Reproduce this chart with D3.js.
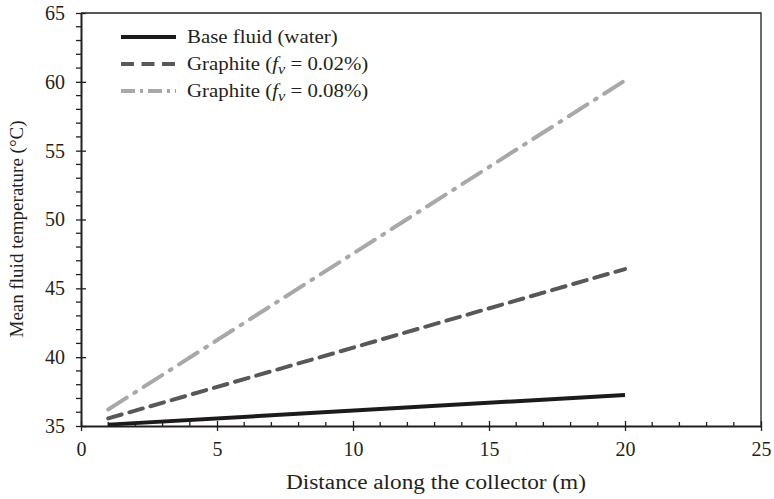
<!DOCTYPE html>
<html>
<head>
<meta charset="utf-8">
<script src="https://cdn.jsdelivr.net/npm/d3@7"></script>
<style>
  body { margin: 0; background: #fff; }
  svg { display: block; }
</style>
</head>
<body>
<svg id="chart" width="774" height="499"></svg>
<script>
// Distance along the collector (m)
const distance = [1, 20];
// Mean fluid temperature (°C) for each fluid
const baseFluid = [35.1, 37.25];
const graphite002 = [35.55, 46.4];
const graphite008 = [36.2, 60.1];

const xTicks = [0, 5, 10, 15, 20, 25];
const yTicks = [35, 40, 45, 50, 55, 60, 65];

const seriesNames = ["Base fluid (water)", "Graphite (fv = 0.02%)", "Graphite (fv = 0.08%)"];
const seriesValues = [baseFluid, graphite002, graphite008];
const seriesColors = ["#1c1a1b", "#58585a", "#a8a8aa"];
const seriesDash = [null, "14 8", "22 9 2 9"];

const FONT = "'Liberation Serif'";

const svg = d3.select("#chart");
const margin = { left: 81, right: 13, top: 13, bottom: 73 };
const W = 774, H = 499;

const x = d3.scaleLinear().domain([0, 25]).range([margin.left, W - margin.right]);
const y = d3.scaleLinear().domain([35, 65]).range([H - margin.bottom, margin.top]);

const axisColor = "#231f20";

// plot frame: top and right edges
svg.append("path")
  .attr("d", `M${x(0)},${y(65)}H${x(25)}V${y(35)}`)
  .attr("fill", "none").attr("stroke", axisColor).attr("stroke-width", 1.3);

// minor ticks: x inward, y outward
svg.append("g").selectAll("line").data(d3.range(0, 26).filter(v => v % 5 !== 0)).join("line")
  .attr("x1", d => x(d)).attr("x2", d => x(d))
  .attr("y1", y(35)).attr("y2", y(35) - 4)
  .attr("stroke", axisColor).attr("stroke-width", 1.3);
svg.append("g").selectAll("line").data(d3.range(35, 66).filter(v => v % 5 !== 0)).join("line")
  .attr("x1", x(0)).attr("x2", x(0) - 5)
  .attr("y1", d => y(d)).attr("y2", d => y(d))
  .attr("stroke", axisColor).attr("stroke-width", 1.3);

// x axis
const xAxis = svg.append("g")
  .attr("transform", `translate(0,${y(35)})`)
  .call(d3.axisBottom(x).tickValues(xTicks).tickSize(5).tickSizeOuter(0).tickPadding(11));
xAxis.selectAll(".tick line").attr("y1", -5);
// y axis
const yAxis = svg.append("g")
  .attr("transform", `translate(${x(0)},0)`)
  .call(d3.axisLeft(y).tickValues(yTicks).tickSize(5).tickSizeOuter(0).tickPadding(11));
yAxis.selectAll(".tick line").attr("x1", 5);

[xAxis, yAxis].forEach(g => {
  g.select(".domain").attr("stroke", axisColor).attr("stroke-width", 2);
  g.selectAll(".tick line").attr("stroke", axisColor).attr("stroke-width", 1.3);
  g.selectAll(".tick text").attr("fill", axisColor)
    .style("font-family", FONT).style("font-size", "20px");
});

// axis titles
svg.append("text")
  .attr("x", 436).attr("y", 489)
  .attr("text-anchor", "middle")
  .attr("textLength", 300).attr("lengthAdjust", "spacingAndGlyphs")
  .style("font-family", FONT).style("font-size", "20px").attr("fill", axisColor)
  .text("Distance along the collector (m)");
svg.append("text")
  .attr("transform", `translate(23,229) rotate(-90)`)
  .attr("text-anchor", "middle")
  .style("font-family", FONT).style("font-size", "19px").attr("fill", axisColor)
  .text("Mean fluid temperature (°C)");

// data lines
const line = d3.line().x(d => x(d[0])).y(d => y(d[1]));
seriesValues.forEach((vals, i) => {
  svg.append("path")
    .datum(distance.map((dv, k) => [dv, vals[k]]))
    .attr("d", line)
    .attr("fill", "none")
    .attr("stroke", seriesColors[i])
    .attr("stroke-width", 4)
    .attr("stroke-dasharray", seriesDash[i])
    .attr("stroke-linecap", i === 0 ? "butt" : "round");
});

// legend
const legend = svg.append("g");
seriesNames.forEach((name, i) => {
  const ly = 37 + i * 27;
  legend.append("line")
    .attr("x1", 121).attr("x2", 176).attr("y1", ly).attr("y2", ly)
    .attr("stroke", seriesColors[i]).attr("stroke-width", 4)
    .attr("stroke-dasharray", i === 1 ? "13 7.5" : i === 2 ? "14 5 3 5" : null);
  const t = legend.append("text")
    .attr("transform", `translate(187,${ly + 5.5}) scale(1.16,1)`)
    .style("font-family", FONT).style("font-size", "18px").attr("fill", axisColor);
  if (i === 0) {
    t.text(name);
  } else {
    const frac = i === 1 ? "0.02%" : "0.08%";
    t.append("tspan").text("Graphite (");
    t.append("tspan").style("font-style", "italic").text("f");
    t.append("tspan").style("font-style", "italic").style("font-size", "14px").attr("dy", 4).text("v");
    t.append("tspan").attr("dy", -4).text(` = ${frac})`);
  }
});
</script>
</body>
</html>
